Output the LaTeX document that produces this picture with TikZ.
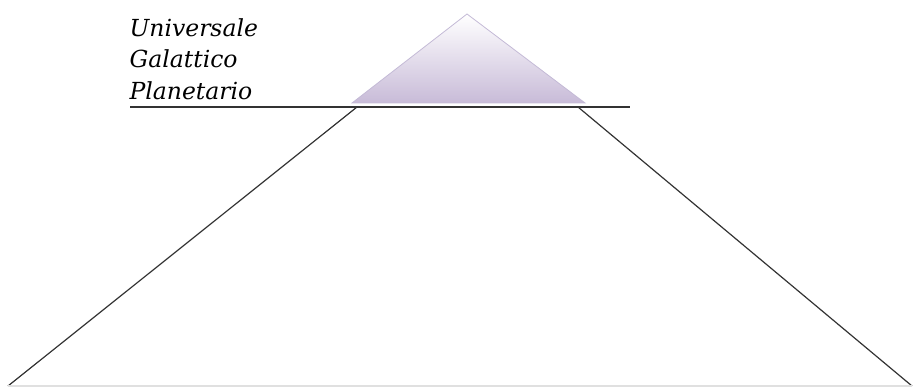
\documentclass[tikz,border=0pt]{standalone}
\usepackage{fontspec}
\newfontfamily\levelfont{DejaVu Serif}
\usetikzlibrary{positioning, calc}

\definecolor{lavender}{RGB}{200,187,216}
\definecolor{lavedge}{RGB}{196,186,214}

\begin{document}
\begin{tikzpicture}[x=1pt, y=-1pt, line width=1.2pt,
    level/.style={anchor=base west, inner sep=0pt, font=\levelfont\itshape\fontsize{23.5}{26}\selectfont}]
    \useasboundingbox (0,0) rectangle (913,387);
    \coordinate (apex) at (467,14);
    \coordinate (bl) at (352,103);
    \coordinate (br) at (585,103);
    \coordinate (hl) at (130,107);
    \coordinate (hr) at (630,107);
    \coordinate (sl) at (357,107);
    \coordinate (sr) at (578,107);
    \coordinate (gl) at (8,386);
    \coordinate (gr) at (912,386);
    % small pyramid on top
    \shade[top color=white, bottom color=lavender, draw=lavedge, line width=0.8pt] (apex) -- (br) -- (bl) -- cycle;
    \node[level] (uni) at (129,37) {Universale};
    \node[level] (gal) at (129,68) {Galattico};
    \node[level] (pla) at (129,100) {Planetario};
    \draw[black!80] (hl) -- (hr);
    \draw[black!80] (sl) -- (gl);
    \draw[black!80] (sr) -- (gr);
    \draw[black!12] (gl) -- (gr);
\end{tikzpicture}
\end{document}
